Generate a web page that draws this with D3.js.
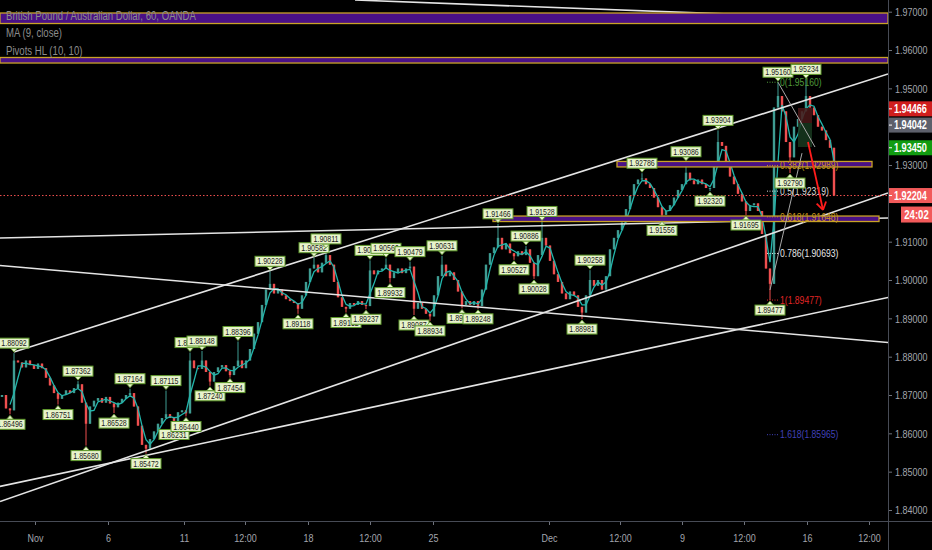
<!DOCTYPE html>
<html><head><meta charset="utf-8">
<script src="https://cdn.jsdelivr.net/npm/d3@7"></script>
<style>
body{margin:0;background:#000;}
svg{display:block;}
text{font-family:"Liberation Sans",Arial,sans-serif;}
</style>
</head><body>
<svg id="c" width="932" height="550"></svg>
<script>
// ---------- DATA ----------
const firstOpen = 1.8695;
const closes = [
1.8700,1.8665,1.8660,1.8790,1.8785,1.8772,1.8790,1.8778,1.8768,1.8782,
1.8770,1.8745,1.8725,1.8705,1.8690,1.8700,1.8712,1.8705,1.8718,1.8728,
1.8680,1.8625,1.8670,1.8685,1.8692,1.8680,1.8695,1.8678,1.8668,1.8680,
1.8690,1.8700,1.8705,1.8670,1.8620,1.8570,1.8560,1.8585,1.8605,1.8625,
1.8640,1.8650,1.8640,1.8632,1.8655,1.8660,1.8652,1.8790,1.8770,1.8768,
1.8790,1.8760,1.8735,1.8760,1.8772,1.8778,1.8762,1.8752,1.8775,1.8790,
1.8770,1.8790,1.8820,1.8860,1.8890,1.8935,1.8975,1.8990,1.8965,1.8975,
1.8960,1.8950,1.8945,1.8940,1.8925,1.8960,1.8995,1.9030,1.9040,1.9020,
1.9045,1.9065,1.9040,1.8995,1.8955,1.8930,1.8925,1.8940,1.8935,1.8945,
1.8935,1.8932,1.9025,1.9015,1.9025,1.9030,1.9040,1.9005,1.9020,1.9030,
1.9018,1.9030,1.9035,1.8925,1.8940,1.8925,1.8912,1.8905,1.8960,1.9010,
1.9040,1.9010,1.9020,1.9000,1.8970,1.8935,1.8945,1.8935,1.8945,1.8932,
1.8975,1.9040,1.9070,1.9085,1.9110,1.9080,1.9095,1.9070,1.9062,1.9075,
1.9065,1.9080,1.9045,1.9010,1.9065,1.9110,1.9090,1.9050,1.9015,1.8995,
1.8965,1.8950,1.8970,1.8960,1.8930,1.8915,1.8960,1.9000,1.8985,1.9000,
1.8975,1.9010,1.9080,1.9110,1.9130,1.9150,1.9185,1.9220,1.9250,1.9262,
1.9265,1.9250,1.9240,1.9215,1.9190,1.9170,1.9180,1.9195,1.9215,1.9235,
1.9250,1.9280,1.9260,1.9250,1.9262,1.9250,1.9240,1.9240,1.9310,1.9360,
1.9350,1.9300,1.9270,1.9250,1.9225,1.9205,1.9180,1.9195,1.9200,1.9180,
1.9120,1.9030,1.8990,1.9450,1.9480,1.9440,1.9360,1.9320,1.9400,1.9420,
1.9440,1.9480,1.9450,1.9430,1.9400,1.9390,1.9365,1.9345,1.92204
];

// pivots: [bar index, price, type]
const pivots = [
[2,1.86496,"L"],[3,1.88092,"H"],[14,1.86751,"L"],[19,1.87362,"H"],[21,1.85680,"L"],
[28,1.86528,"L"],[32,1.87164,"H"],[36,1.85472,"L"],[41,1.87115,"H"],[43,1.86231,"L"],
[46,1.86440,"L"],[47,1.88107,"H"],[50,1.88148,"H"],[52,1.87240,"L"],[57,1.87454,"L"],
[59,1.88396,"H"],[67,1.90228,"H"],[74,1.89118,"L"],[78,1.90582,"H"],[81,1.90811,"H"],
[86,1.89152,"L"],[91,1.89237,"L"],[92,1.90512,"H"],[96,1.90566,"H"],[97,1.89932,"L"],
[102,1.90479,"H"],[103,1.89087,"L"],[107,1.88934,"L"],[110,1.90631,"H"],[115,1.89260,"L"],
[119,1.89248,"L"],[124,1.91466,"H"],[128,1.90527,"L"],[131,1.90886,"H"],[133,1.90028,"L"],
[135,1.91528,"H"],[145,1.88981,"L"],[147,1.90258,"H"],[160,1.92786,"H"],[165,1.91556,"L"],
[171,1.93086,"H"],[177,1.92320,"L"],[179,1.93904,"H"],[186,1.91695,"L"],[192,1.89477,"L"],
[194,1.95160,"H"],[197,1.92790,"L"],[201,1.95234,"H"]
];

const priceTicks = [1.84,1.85,1.86,1.87,1.88,1.89,1.90,1.91,1.92,1.93,1.94,1.95,1.96,1.97];
const timeTickLabels = ["Nov","6","11","12:00","18","12:00","25","Dec","12:00","9","12:00","16","12:00"];
const timeTickBars = [8.25,26.5,45.5,60.75,76.5,92,107.75,136.75,154.5,170,185.5,201.25,216.75];

// zones: [bar from, bar to, price top, price bottom]
const zones = [
[-0.5,221.5,1.96966,1.96692],
[-0.5,221.5,1.95805,1.95661],
[153.75,217.5,1.93093,1.92950],
[122.75,219.25,1.91669,1.91526]
];
// trendlines: [bar1, price1, bar2, price2]
const trendlines = [
[88.25,1.97305,221.5,1.96783],
[3,1.88120,221.5,1.95375],
[-0.5,1.91096,221.5,1.91618],
[-0.5,1.90379,221.5,1.88370],
[-0.5,1.84221,221.5,1.92270],
[-0.5,1.84615,221.5,1.89544]
];
// fibonacci retracement
const fibHigh = 1.95160, fibLow = 1.89477;
const fibLevels = [0,0.382,0.5,0.618,0.786,1,1.618];
const fibColors = ["#4f9a3a","#c8961e","#d8d8d8","#c8961e","#e6e6e6","#e02626","#4040b8"];
const fibBarFrom = 191.25, fibBarTo = 194, fibTextBar = 194.5;
// small drawings
const grayLines = [[194,1.95160,203.25,1.93470],[192,1.89740,200,1.93310]];
const posBoxes = [[199,202.5,1.94488,1.94096,"#4a1818"],[199,202.5,1.94096,1.93470,"#17381f"]];
const arrow = [201.5,1.93600,205.25,1.91827];
// price tags on the right axis
const tagPrices = [1.94466,1.94042,1.93450,1.92204];
const tagColors = ["#d01e1e","#5d606b","#119c11","#f25a5a"];
const lastPrice = 1.92204, countdown = "24:02";
const legendLines = ["British Pound / Australian Dollar, 60, OANDA","MA (9, close)","Pivots HL (10, 10)"];

// ---------- CHART ----------
const svg = d3.select("#c");
const plotR = 888, plotB = 521;
const x = d3.scaleLinear().domain([-0.5,221.5]).range([0,plotR]);
const y = d3.scaleLinear().domain([1.84,1.97]).range([510,11.7]);
// condense text horizontally (around its anchor x) to mimic the narrow chart font
function narrow(sel, f){
  sel.each(function(){
    const x0 = +(this.getAttribute("x")||0);
    d3.select(this).attr("transform",`translate(${x0},0) scale(${f},1) translate(${-x0},0)`);
  });
}

svg.append("rect").attr("width",932).attr("height",550).attr("fill","#000");
svg.append("defs").append("clipPath").attr("id","clip")
  .append("rect").attr("x",0).attr("y",0).attr("width",plotR).attr("height",plotB);
const g = svg.append("g").attr("clip-path","url(#clip)");

// candles
const bars = closes.map((c,i)=>{
  const o = i===0 ? firstOpen : closes[i-1];
  return {i,o,c,h:Math.max(o,c),l:Math.min(o,c)};
});
pivots.forEach(([i,p,t])=>{ if(t==="H") bars[i].h=Math.max(bars[i].h,p); else bars[i].l=Math.min(bars[i].l,p); });
const upC="#3f9c92", dnC="#ef4f4f";
const cg = g.append("g");
cg.selectAll("line").data(bars).join("line")
  .attr("x1",d=>x(d.i)).attr("x2",d=>x(d.i))
  .attr("y1",d=>y(d.h)).attr("y2",d=>y(d.l))
  .attr("stroke",d=>d.c>=d.o?upC:dnC).attr("stroke-width",1);
cg.selectAll("rect").data(bars).join("rect")
  .attr("x",d=>x(d.i)-1.2).attr("width",2.4)
  .attr("y",d=>y(Math.max(d.o,d.c)))
  .attr("height",d=>Math.max(1,Math.abs(y(d.o)-y(d.c))))
  .attr("fill",d=>d.c>=d.o?upC:dnC);

// moving average
const win = 3;
const ma = closes.map((c,i)=> i<win-1?null:d3.mean(closes.slice(i-win+1,i+1)));
g.append("path").datum(ma.map((v,i)=>[i,v]).filter(d=>d[1]!==null))
  .attr("d",d3.line().x(d=>x(d[0])).y(d=>y(d[1])))
  .attr("fill","none").attr("stroke","#22b5ab").attr("stroke-width",1.3);

// trendlines
g.selectAll(".tl").data(trendlines).join("line").attr("class","tl")
  .attr("x1",d=>x(d[0])).attr("y1",d=>y(d[1])).attr("x2",d=>x(d[2])).attr("y2",d=>y(d[3]))
  .attr("stroke","#e4e4e4").attr("stroke-width",1.6);

// zones
g.selectAll(".zn").data(zones).join("rect").attr("class","zn")
  .attr("x",d=>x(d[0])).attr("width",d=>x(d[1])-x(d[0]))
  .attr("y",d=>y(d[2])).attr("height",d=>y(d[3])-y(d[2]))
  .attr("fill","#4a1086").attr("stroke","#c9a227").attr("stroke-width",1.3);

// last price line
g.append("line").attr("x1",0).attr("x2",plotR).attr("y1",y(lastPrice)).attr("y2",y(lastPrice))
  .attr("stroke","#f05050").attr("stroke-width",1).attr("stroke-dasharray","1.5,2");

// position boxes and gray drawing lines
g.selectAll(".pb").data(posBoxes).join("rect").attr("class","pb")
  .attr("x",d=>x(d[0])).attr("width",d=>x(d[1])-x(d[0]))
  .attr("y",d=>y(d[2])).attr("height",d=>y(d[3])-y(d[2]))
  .attr("fill",d=>d[4]).attr("opacity",0.85);
g.selectAll(".gl").data(grayLines).join("line").attr("class","gl")
  .attr("x1",d=>x(d[0])).attr("y1",d=>y(d[1])).attr("x2",d=>x(d[2])).attr("y2",d=>y(d[3]))
  .attr("stroke","#a8a8a8").attr("stroke-width",1);

// fib levels
const fib = fibLevels.map((l,k)=>({l,p:fibHigh-l*(fibHigh-fibLow),c:fibColors[k]}));
g.selectAll(".fl").data(fib).join("line").attr("class","fl")
  .attr("x1",x(fibBarFrom)).attr("x2",x(fibBarTo))
  .attr("y1",d=>y(d.p)).attr("y2",d=>y(d.p))
  .attr("stroke",d=>d.c).attr("stroke-width",1).attr("stroke-dasharray","1,1.5");
g.selectAll(".ft").data(fib).join("text").attr("class","ft")
  .attr("x",x(fibTextBar)).attr("y",d=>y(d.p)).attr("dy","0.35em")
  .attr("font-size",10.5).attr("fill",d=>d.c)
  .text(d=>`${d.l}(${d.p.toFixed(5)})`)
  .call(narrow,0.82);

// arrow
const ax1=x(arrow[0]), ay1=y(arrow[1]), ax2=x(arrow[2]), ay2=y(arrow[3]);
g.append("line").attr("x1",ax1).attr("y1",ay1).attr("x2",ax2).attr("y2",ay2)
  .attr("stroke","#ff1c1c").attr("stroke-width",1.8);
const ang = Math.atan2(ay2-ay1, ax2-ax1);
[ang+Math.PI*0.82, ang-Math.PI*0.82].forEach(a=>{
  g.append("line").attr("x1",ax2).attr("y1",ay2)
    .attr("x2",ax2+9*Math.cos(a)).attr("y2",ay2+9*Math.sin(a))
    .attr("stroke","#ff1c1c").attr("stroke-width",1.8);
});

// pivot labels
const pl = g.append("g");
pivots.forEach(([i,p,t])=>{
  const cx=x(i), py=y(p), s = t==="H"?-1:1;
  const tip=py+s*1, base=py+s*5, boxY = t==="H"? py-15 : py+5;
  pl.append("path").attr("d",`M${cx},${tip}L${cx-3.5},${base}L${cx+3.5},${base}Z`)
    .attr("fill","#e8f3cc").attr("stroke","#5f9a2c").attr("stroke-width",0.8);
  pl.append("rect").attr("x",cx-15).attr("y",boxY).attr("width",30).attr("height",10)
    .attr("fill","#e8f3cc").attr("stroke","#5f9a2c").attr("stroke-width",1);
  pl.append("text").attr("x",cx).attr("y",boxY+5).attr("dy","0.36em")
    .attr("text-anchor","middle").attr("font-size",8.6).attr("fill","#1c1c1c")
    .text(p.toFixed(5)).call(narrow,0.82);
});

// legend
svg.selectAll(".lg").data(legendLines).join("text").attr("class","lg")
  .attr("x",6).attr("y",(d,k)=>20+k*17.5).attr("font-size",12)
  .attr("fill","#8c8c8c").text(d=>d).call(narrow,0.8);

// axes (price ticks hidden under the price tags are not shown, as in the reference)
const visibleTicks = priceTicks.filter(p=>tagPrices.every(t=>Math.abs(y(p)-y(t))>9));
const yAxis = d3.axisRight(y).tickValues(visibleTicks).tickFormat(d3.format(".5f")).tickSize(4).tickPadding(3);
const ya = svg.append("g").attr("transform",`translate(${plotR},0)`).call(yAxis);
const xAxis = d3.axisBottom(x).tickValues(timeTickBars).tickFormat((d,k)=>timeTickLabels[k]).tickSize(4).tickPadding(9);
const xa = svg.append("g").attr("transform",`translate(0,${plotB})`).call(xAxis);
[ya,xa].forEach(a=>{
  a.select(".domain").remove();
  a.selectAll(".tick line").attr("stroke","#6e727c");
  a.selectAll(".tick text").attr("fill","#a3a6ae").attr("font-size",11.5)
    .style("font-family",'"Liberation Sans",Arial,sans-serif').call(narrow,0.78);
});
svg.append("line").attr("x1",plotR+0.5).attr("x2",plotR+0.5).attr("y1",0).attr("y2",550)
  .attr("stroke","#474b55").attr("stroke-width",1);
svg.append("line").attr("x1",0).attr("x2",932).attr("y1",plotB+0.5).attr("y2",plotB+0.5)
  .attr("stroke","#474b55").attr("stroke-width",1);

// right-axis price tags
const tg = svg.append("g");
tagPrices.forEach((p,k)=>{
  const ty=y(p);
  tg.append("rect").attr("x",plotR+1).attr("y",ty-7.5).attr("width",932-plotR-1).attr("height",15).attr("fill",tagColors[k]);
  tg.append("line").attr("x1",plotR+1).attr("x2",plotR+4).attr("y1",ty).attr("y2",ty).attr("stroke","#fff");
  tg.append("text").attr("x",plotR+6).attr("y",ty).attr("dy","0.36em")
    .attr("font-size",12).attr("font-weight","bold").attr("fill","#fff").text(p.toFixed(5)).call(narrow,0.76);
});
const ly=y(lastPrice);
tg.append("rect").attr("x",901).attr("y",ly+11).attr("width",31).attr("height",16).attr("fill",tagColors[3]);
tg.append("text").attr("x",916.5).attr("y",ly+19).attr("dy","0.36em").attr("text-anchor","middle")
  .attr("font-size",12).attr("font-weight","bold").attr("fill","#fff").text(countdown).call(narrow,0.8);
</script>
</body></html>
